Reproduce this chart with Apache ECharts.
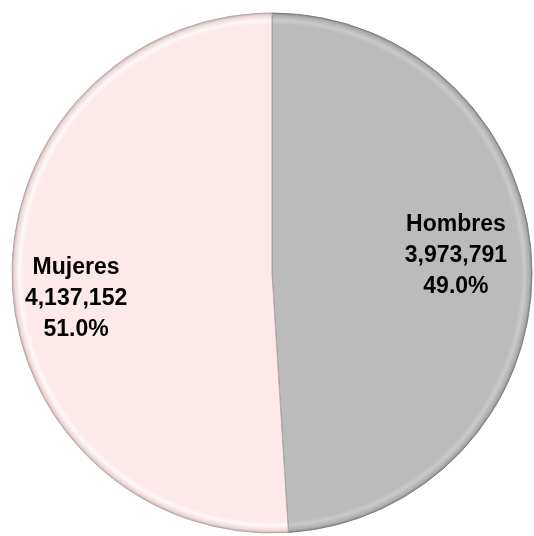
<!DOCTYPE html>
<html>
<head>
<meta charset="utf-8">
<script src="https://cdn.jsdelivr.net/npm/echarts@6/dist/echarts.min.js"></script>
<style>
  html, body { margin: 0; padding: 0; background: #ffffff; }
  #chart { width: 534px; height: 536px; }
</style>
</head>
<body>
<div id="chart"></div>
<script>
// Population by sex
const categories = ['Hombres', 'Mujeres'];
const values = [3973791, 4137152];
const labelOffsets = [[51, -13], [-63, 21]];

const CX = 272, CY = 273, R = 260;

const total = values.reduce((a, b) => a + b, 0);
const fmtNum = v => v.toLocaleString('en-US');

// Flat fill with a thin bevelled rim near the outer edge
function rimFill(base, light, dark, edge) {
  return new echarts.graphic.RadialGradient(CX, CY, R, [
    { offset: 0, color: base },
    { offset: 0.955, color: base },
    { offset: 0.972, color: light },
    { offset: 0.99, color: dark },
    { offset: 1, color: edge }
  ], true);
}

const sliceStyles = [
  { color: rimFill('#BBBBBB', '#CACACA', '#AFAFAF', '#8C8C8C'), borderColor: '#7d7d7d' },
  { color: rimFill('#FDE9E9', '#FFF7F7', '#EFDADA', '#C2B0B0'), borderColor: '#b8a6a6' }
];

const chart = echarts.init(document.getElementById('chart'), null, { renderer: 'canvas' });

chart.setOption({
  animation: false,
  series: [{
    type: 'pie',
    center: [CX, CY],
    radius: [0, R],
    startAngle: 90,
    clockwise: true,
    avoidLabelOverlap: false,
    itemStyle: { borderWidth: 1 },
    label: {
      show: true,
      position: 'inside',
      formatter: p => p.name + '\n' + fmtNum(p.value) + '\n' + (p.value / total * 100).toFixed(1) + '%',
      fontFamily: '"Liberation Sans", Arial, sans-serif',
      fontWeight: 'bold',
      fontSize: 23,
      lineHeight: 31,
      color: '#000000',
      align: 'center'
    },
    labelLine: { show: false },
    emphasis: { disabled: true },
    data: categories.map((name, i) => ({
      name: name,
      value: values[i],
      itemStyle: sliceStyles[i],
      label: { offset: labelOffsets[i] }
    }))
  }]
});
</script>
</body>
</html>
